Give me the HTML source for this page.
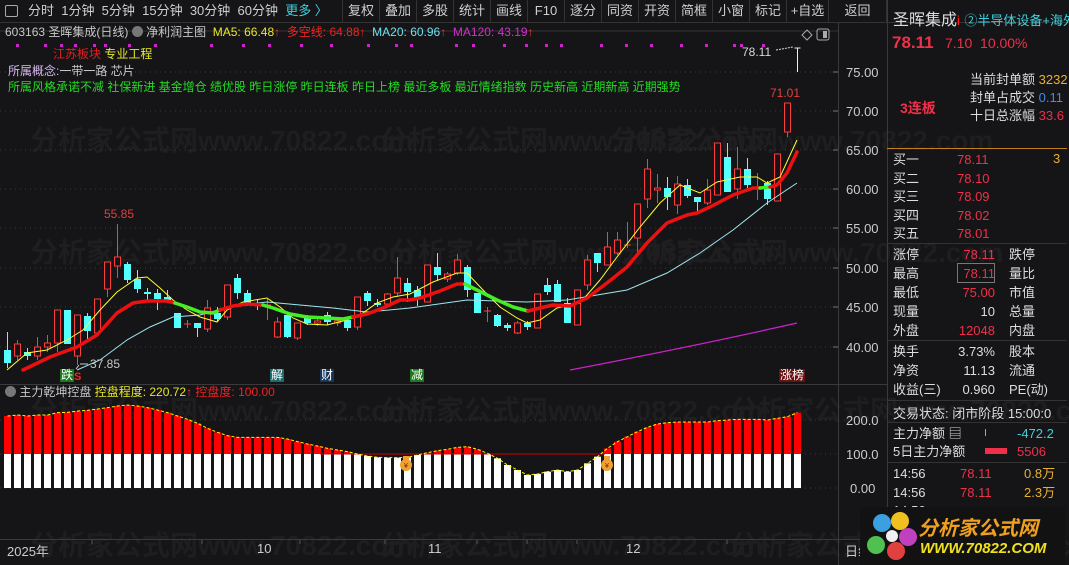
<!DOCTYPE html>
<html><head><meta charset="utf-8">
<style>
*{margin:0;padding:0;box-sizing:border-box}
body{width:1069px;height:565px;background:#151416;overflow:hidden;position:relative;font-family:"Liberation Sans","Noto Sans CJK SC",sans-serif;color:#c8c8c8}
.a{position:absolute;white-space:nowrap}
.tb{position:absolute;top:0;height:22px;font-size:13px;line-height:22px;color:#cfcfcf;text-align:center;border-right:1px solid #333}
.rp{font-size:13px}
</style></head><body>
<svg id="s" width="1069" height="565" style="position:absolute;left:0;top:0" xmlns="http://www.w3.org/2000/svg"></svg>

<div class="a" style="left:0;top:0;width:1069px;height:23px;border-bottom:1px solid #333"></div>
<div class="a" style="left:5px;top:5px;width:13px;height:12px;border:1px solid #aaa;border-radius:2px"></div>
<div class="a" style="left:28px;top:0;font-size:13px;line-height:22px;color:#cfcfcf;word-spacing:0">分时&nbsp;&nbsp;1分钟&nbsp;&nbsp;5分钟&nbsp;&nbsp;15分钟&nbsp;&nbsp;30分钟&nbsp;&nbsp;60分钟&nbsp;&nbsp;<span style="color:#3fd0e0">更多 〉</span></div>
<div class="tb" style="left:342px;width:1px;border-right:1px solid #333"></div>
<div class="tb" style="left:343px;width:37px">复权</div>
<div class="tb" style="left:380px;width:37px">叠加</div>
<div class="tb" style="left:417px;width:37px">多股</div>
<div class="tb" style="left:454px;width:37px">统计</div>
<div class="tb" style="left:491px;width:37px">画线</div>
<div class="tb" style="left:528px;width:37px">F10</div>
<div class="tb" style="left:565px;width:37px">逐分</div>
<div class="tb" style="left:602px;width:37px">同资</div>
<div class="tb" style="left:639px;width:37px">开资</div>
<div class="tb" style="left:676px;width:37px">简框</div>
<div class="tb" style="left:713px;width:37px">小窗</div>
<div class="tb" style="left:750px;width:37px">标记</div>
<div class="tb" style="left:787px;width:42px">+自选</div>
<div class="tb" style="left:829px;width:58px">返回</div>

<div class="a" style="left:5px;top:24px;font-size:12px;line-height:16px"><span style="color:#c8c8c8">603163 圣晖集成(日线)</span> <span style="display:inline-block;width:11px;height:11px;border-radius:50%;background:#777;vertical-align:-1px"></span> <span style="color:#c8c8c8">净利润主图</span>&nbsp; <span style="color:#e8e82a">MA5: 66.48</span><span style="color:#f33">↑</span>&nbsp; <span style="color:#e22">多空线: 64.88↑</span>&nbsp; <span style="color:#6ee0f0">MA20: 60.96</span><span style="color:#f33">↑</span>&nbsp; <span style="color:#d030d0">MA120: 43.19</span><span style="color:#f33">↑</span></div>
<div class="a" style="left:53px;top:46px;font-size:12px;line-height:16px"><span style="color:#e02020">江苏板块</span> <span style="color:#e8e82a">专业工程</span></div>
<div class="a" style="left:8px;top:63px;font-size:12px;line-height:16px"><span style="color:#d8b8f0">所属概念:</span><span style="color:#c8c8c8">一带一路 芯片</span></div>
<div class="a" style="left:8px;top:79px;font-size:12px;line-height:16px;color:#22dd22">所属风格承诺不减 社保新进 基金增仓 绩优股 昨日涨停 昨日连板 昨日上榜 最近多板 最近情绪指数 历史新高 近期新高 近期强势</div>

<div class="a" style="left:104px;top:207px;font-size:12px;color:#e04040">55.85</div>
<div class="a" style="left:90px;top:357px;font-size:12px;color:#c8c8c8">37.85</div>
<div class="a" style="left:770px;top:86px;font-size:12px;color:#e04040">71.01</div>
<div class="a" style="left:742px;top:45px;font-size:12px;color:#d8d8d8">78.11</div>
<div class="a" style="left:60px;top:369px;font-size:12px;line-height:13px;background:#1a7a1a;color:#fff;padding:0 1px">跌</div>
<div class="a" style="left:74px;top:371px;font-size:11px;color:#f22;font-weight:bold">S</div>
<div class="a" style="left:270px;top:369px;font-size:12px;line-height:13px;background:#1a6a6a;color:#fff;padding:0 1px">解</div>
<div class="a" style="left:320px;top:369px;font-size:12px;line-height:13px;background:#14345a;color:#fff;padding:0 1px">财</div>
<div class="a" style="left:410px;top:369px;font-size:12px;line-height:13px;background:#1a7a1a;color:#fff;padding:0 1px">减</div>
<div class="a" style="left:779px;top:369px;font-size:12px;line-height:13px;background:#6a1010;color:#fff;padding:0 1px">涨榜</div>

<div class="a" style="left:846px;top:65px;font-size:13px;color:#ccc">75.00</div>
<div class="a" style="left:846px;top:104px;font-size:13px;color:#ccc">70.00</div>
<div class="a" style="left:846px;top:143px;font-size:13px;color:#ccc">65.00</div>
<div class="a" style="left:846px;top:182px;font-size:13px;color:#ccc">60.00</div>
<div class="a" style="left:846px;top:221px;font-size:13px;color:#ccc">55.00</div>
<div class="a" style="left:846px;top:261px;font-size:13px;color:#ccc">50.00</div>
<div class="a" style="left:846px;top:300px;font-size:13px;color:#ccc">45.00</div>
<div class="a" style="left:846px;top:340px;font-size:13px;color:#ccc">40.00</div>
<div class="a" style="left:846px;top:413px;font-size:13px;color:#ccc">200.0</div>
<div class="a" style="left:846px;top:447px;font-size:13px;color:#ccc">100.0</div>
<div class="a" style="left:850px;top:481px;font-size:13px;color:#ccc">0.00</div>

<div class="a" style="left:5px;top:384px;font-size:12px;line-height:16px"><span style="display:inline-block;width:11px;height:11px;border-radius:50%;background:#777;vertical-align:-1px"></span> <span style="color:#c8c8c8">主力乾坤控盘</span> <span style="color:#e8e82a">控盘程度: 220.72</span><span style="color:#f33">↑</span> <span style="color:#e22">控盘度: 100.00</span></div>

<div class="a" style="left:7px;top:541px;font-size:13px;color:#ccc">2025年</div>
<div class="a" style="left:257px;top:541px;font-size:13px;color:#ccc">10</div>
<div class="a" style="left:428px;top:541px;font-size:13px;color:#ccc">11</div>
<div class="a" style="left:626px;top:541px;font-size:13px;color:#ccc">12</div>
<div class="a" style="left:845px;top:541px;font-size:13px;color:#ccc">日线</div>

<div class="a" style="left:893px;top:6px;font-size:16px;color:#ddd">圣晖集成<span style="color:#f22;font-size:13px">i</span> <span style="color:#3fd0e0;font-size:13px">②半导体设备+海外</span></div>
<div class="a" style="left:892px;top:33px;font-size:17px;color:#f0304a;font-weight:bold">78.11</div>
<div class="a" style="left:945px;top:35px;font-size:14px;color:#f0304a">7.10&nbsp;&nbsp;10.00%</div>
<div class="a" style="left:900px;top:98px;font-size:14px;color:#f0304a;font-weight:bold">3连板</div>
<div class="a rp" style="left:970px;top:69px;color:#ddd">当前封单额 <span style="color:#e8b030">3232</span></div>
<div class="a rp" style="left:970px;top:87px;color:#ddd">封单占成交 <span style="color:#3a90f0">0.11</span></div>
<div class="a rp" style="left:970px;top:105px;color:#ddd">十日总涨幅 <span style="color:#f0304a">33.6</span></div>
<div class="a" style="left:887px;top:148px;width:180px;height:1px;background:#c08020"></div>
<div class="a rp" style="left:893px;top:151px;line-height:18.5px;color:#ddd">买一<br>买二<br>买三<br>买四<br>买五</div>
<div class="a rp" style="left:957px;top:151px;line-height:18.5px;color:#f0304a">78.11<br>78.10<br>78.09<br>78.02<br>78.01</div>
<div class="a rp" style="left:1053px;top:151px;color:#e8b030">3</div>
<div class="a" style="left:887px;top:243px;width:180px;height:1px;background:#333"></div>
<div class="a rp" style="left:893px;top:245px;line-height:19px;color:#ddd">涨停<br>最高<br>最低<br>现量<br>外盘</div>
<div class="a rp" style="left:957px;top:245px;line-height:19px;color:#f0304a;text-align:right;width:38px">78.11<br>78.11<br>75.00<br><span style="color:#ddd">10</span><br>12048</div>
<div class="a" style="left:957px;top:263px;width:38px;height:20px;border:1px solid #777"></div>
<div class="a rp" style="left:1009px;top:245px;line-height:19px;color:#ddd">跌停<br>量比<br>市值<br>总量<br>内盘</div>
<div class="a" style="left:887px;top:340px;width:180px;height:1px;background:#333"></div>
<div class="a rp" style="left:893px;top:342px;line-height:19px;color:#ddd">换手<br>净资<br>收益(三)</div>
<div class="a rp" style="left:955px;top:342px;line-height:19px;color:#ddd;text-align:right;width:40px">3.73%<br>11.13<br>0.960</div>
<div class="a rp" style="left:1009px;top:342px;line-height:19px;color:#ddd">股本<br>流通<br>PE(动)</div>
<div class="a" style="left:887px;top:400px;width:180px;height:1px;background:#333"></div>
<div class="a rp" style="left:893px;top:403px;color:#ddd">交易状态: 闭市阶段 15:00:0</div>
<div class="a" style="left:887px;top:422px;width:180px;height:1px;background:#333"></div>
<div class="a rp" style="left:893px;top:425px;line-height:18px;color:#ddd">主力净额 ▤<br>5日主力净额</div>
<div class="a" style="left:985px;top:429px;width:1px;height:7px;background:#3fd0e0"></div>
<div class="a" style="left:985px;top:448px;width:22px;height:6px;background:#f0304a"></div>
<div class="a rp" style="left:1017px;top:425px;line-height:18px;color:#3fd0e0">-472.2<br><span style="color:#f0304a">5506</span></div>
<div class="a" style="left:887px;top:462px;width:180px;height:1px;background:#333"></div>
<div class="a rp" style="left:893px;top:465px;line-height:18.5px;color:#ddd">14:56<br>14:56<br>14:56</div>
<div class="a rp" style="left:960px;top:465px;line-height:18.5px;color:#f0304a">78.11<br>78.11</div>
<div class="a rp" style="left:1024px;top:465px;line-height:18.5px;color:#e8b030">0.8万<br>2.3万</div>

<div class="a" style="left:860px;top:507px;width:205px;height:58px;background:#121212"></div>
<svg class="a" style="left:862px;top:505px" width="60" height="60">
<circle cx="20" cy="18" r="9" fill="#3aa0e0"/><circle cx="38" cy="16" r="9" fill="#f0c020"/><circle cx="46" cy="32" r="9" fill="#c040c0"/><circle cx="34" cy="46" r="9" fill="#e04040"/><circle cx="14" cy="40" r="9" fill="#50c050"/><circle cx="30" cy="31" r="6" fill="#f0f0f0"/></svg>
<div class="a" style="left:918px;top:512px;font-size:20px;font-weight:bold;font-style:italic;color:#f0a020">分析家公式网</div>
<div class="a" style="left:920px;top:540px;font-size:15px;font-weight:bold;font-style:italic;color:#f0e020">WWW.70822.COM</div>

<script>
const S=document.getElementById('s');let h='';
const wm=[[0,150],[350,150],[0,262],[360,262],[590,262],[0,420],[350,420],[700,420],[0,555],[350,555],[700,555],[580,150]];
wm.forEach(w=>{h+=`<text x="${w[0]+30}" y="${w[1]}" font-size="28" fill="#1e1d20" font-family="Liberation Sans,Noto Sans CJK SC,sans-serif" font-weight="bold">分析家公式网www.70822.com</text>`});
h+=`<line x1="0" y1="31" x2="838" y2="31" stroke="#333"/>`;
h+=`<line x1="838.5" y1="23" x2="838.5" y2="565" stroke="#3a3a3a"/>`;
h+=`<line x1="887.5" y1="0" x2="887.5" y2="565" stroke="#3a3a3a"/>`;
h+=`<line x1="0" y1="384.5" x2="887" y2="384.5" stroke="#3a3a3a"/>`;
h+=`<line x1="0" y1="539.5" x2="887" y2="539.5" stroke="#3a3a3a"/>`;
[72,111,150,189,228,268,307,347].forEach(y=>{h+=`<line x1="0" y1="${y}" x2="838" y2="${y}" stroke="#3a3a3a" stroke-dasharray="1,4"/><line x1="833" y1="${y}" x2="838" y2="${y}" stroke="#777"/>`});
[420,454,488].forEach(y=>{h+=`<line x1="0" y1="${y}" x2="838" y2="${y}" stroke="#3a3a3a" stroke-dasharray="1,4"/>`});
[92,202,300,385,477,527,577,727].forEach(x=>{h+=`<line x1="${x}" y1="540" x2="${x}" y2="544" stroke="#555"/>`});
[16,44,60,74,93,104,128,154,210,242,268,300,330,367,395,410,455,472,503,525,545,560,600,625,650,680,705,733,740,762].forEach(x=>{h+=`<rect x="${x}" y="44" width="3" height="3" fill="#d020d0"/>`});
const z=[138,135,138,135,135,128,127,123,121,117,113,108,105,108,113,120,128,138,148,160,175,187,197,202,202,202,202,202,207,215,222,228,235,240,245,252,258,262,263,263,262,255,248,242,238,
232,230,238,250,265,285,300,315,312,305,300,305,300,280,260,235,215,200,185,172,162,158,156,156,156,156,152,150,148,148,148,150,145,140,128];
let yl=[];
z.forEach((v,i)=>{const x=4+i*10,top=370+v/3;yl.push([x+3.5,top]);
 if(top<454){h+=`<rect x="${x}" y="${top}" width="7" height="${454-top}" fill="#f00"/><rect x="${x}" y="454" width="7" height="34" fill="#fff"/>`}
 else{h+=`<rect x="${x}" y="${top}" width="7" height="${488-top}" fill="#fff"/>`}});
h+=`<line x1="320" y1="454" x2="605" y2="454" stroke="#c00" stroke-width="1"/>`;
h+=`<polyline points="${yl.map(p=>p.join(',')).join(' ')}" fill="none" stroke="#ff0" stroke-width="1" stroke-dasharray="3,2"/>`;
[406,607].forEach(x=>{h+=`<circle cx="${x}" cy="465" r="6" fill="#f0a030"/><rect x="${x-3}" y="456" width="6" height="4" fill="#f0a030"/><text x="${x-2}" y="468" font-size="7" fill="#603010">¥</text>`});
const C=[['c',350,363,332,368],['r',344,356,340,360],['c',352,356,348,360],['r',347,356,337,360],['r',343,347,335,352],['r',310,343,310,352],['c',310,344,310,344],['r',315,356,315,365],['c',316,331,313,340],['r',299,333,299,333],
['r',262,289,262,297],['r',257,266,224,278],['c',264,280,262,283],['c',279,289,270,293],['c',292,294,288,300],['c',293,299,289,310],['c',297,300,290,303],['c',313,328,313,328],['x',324,325,320,328],['c',323,328,323,337],
['r',308,329,300,332],['c',313,319,307,322],['r',285,317,285,320],['c',278,293,274,299],['c',293,303,290,306],['c',303,306,299,310],['r',305,307,299,320],['r',322,337,317,338],['c',315,337,315,338],['r',323,338,323,340],
['c',317,323,315,325],['r',321,323,317,326],['c',315,322,312,325],['r',321,323,317,326],['c',320,328,318,331],['r',297,327,297,330],['c',293,301,291,306],['c',303,305,299,307],['r',294,304,293,308],['r',278,293,257,297],
['c',283,292,278,302],['c',290,298,286,306],['r',265,302,265,302],['c',267,275,253,280],['r',274,279,272,282],['r',260,273,254,275],['c',267,290,265,297],['c',293,313,293,313],['x',311,312,307,322],['c',315,326,314,327],
['c',325,328,323,331],['r',323,333,321,334],['c',323,327,321,330],['r',294,328,294,328],['c',285,292,278,295],['c',284,302,280,302],['c',303,323,298,323],['r',290,325,290,325],['r',260,285,255,290],['c',253,263,253,272],
['r',247,265,232,265],['r',240,253,232,255],['x',245,246,222,248],['r',204,238,204,253],['r',169,199,159,208],['r',188,190,174,203],['c',188,197,177,210],['r',184,205,176,214],['c',185,196,179,198],['c',197,202,197,212],
['r',190,203,179,205],['r',143,195,143,195],['c',157,192,143,192],['r',169,189,147,199],['c',169,185,158,188],['r',187,189,173,200],['c',183,199,181,205],['r',154,201,154,201],['r',103,132,103,137],['w',48,49,48,72]];
C.forEach((c,i)=>{const x=7.5+i*10;let col=c[0]=='c'?'#54ffff':c[0]=='w'?'#eee':'#ff3c3c';
 h+=`<line x1="${x}" y1="${c[3]}" x2="${x}" y2="${c[4]}" stroke="${col}"/>`;
 if(c[0]=='c')h+=`<rect x="${x-3.5}" y="${c[1]}" width="7" height="${Math.max(1,c[2]-c[1])}" fill="${col}"/>`;
 else if(c[0]=='r')h+=`<rect x="${x-3}" y="${c[1]}" width="6" height="${Math.max(1,c[2]-c[1])}" fill="#151416" stroke="${col}"/>`;
 else if(c[0]=='x')h+=`<line x1="${x-3.5}" y1="${c[1]}" x2="${x+3.5}" y2="${c[1]}" stroke="${col}"/>`;
 else h+=`<line x1="${x-3}" y1="48" x2="${x+3}" y2="48" stroke="${col}"/>`;});
h+=`<line x1="776" y1="50" x2="793" y2="47" stroke="#ddd" stroke-dasharray="2,1"/>`;
h+=`<line x1="80" y1="364" x2="88" y2="364" stroke="#ccc"/><line x1="79" y1="365" x2="76" y2="369" stroke="#ccc"/>`;
const P=a=>a.map(p=>p.join(',')).join(' ');
const cy=[[77,370],[100,360],[127,340],[150,327],[173,317],[200,315],[233,306],[267,302],[300,305],[333,308],[367,312],[410,308],[467,300],[527,302],[567,300],[627,290],[667,273],[700,253],[733,230],[767,203],[797,183]];
h+=`<polyline points="${P(cy)}" fill="none" stroke="#9ee8ee" stroke-width="1"/>`;
h+=`<path d="M570,370 Q700,345 797,323" fill="none" stroke="#d020d0" stroke-width="1.2"/>`;
const ye=[[7,370],[27,353],[47,350],[67,340],[83,330],[100,310],[117,292],[137,278],[147,277],[160,288],[173,300],[187,310],[200,317],[217,322],[227,310],[243,302],[267,298],[280,307],[293,318],[307,324],[327,325],[347,320],[360,315],[377,303],[393,297],[410,294],[433,282],[457,273],[467,273],[483,290],[500,307],[517,318],[527,323],[540,320],[557,308],[580,303],[600,280],[617,257],[640,227],[660,203],[680,185],[700,193],[717,182],[740,177],[757,177],[767,183],[780,177],[797,140]];
h+=`<polyline points="${P(ye)}" fill="none" stroke="#ffff30" stroke-width="1"/>`;
const segs=[['r',[[23,370],[50,357],[77,347],[97,335],[117,313],[133,303],[147,301],[167,301],[175,303]]],
['g',[[175,303],[187,307],[200,312],[213,313],[220,310]]],
['r',[[220,310],[233,306],[247,304],[263,305]]],
['g',[[263,305],[273,308],[290,314],[307,317],[327,318],[343,319],[353,317]]],
['r',[[353,317],[367,314],[383,308],[400,300],[410,300],[420,298],[440,291],[457,284],[465,284]]],
['g',[[465,284],[477,290],[497,300],[513,307],[528,311]]],
['r',[[528,311],[540,308],[553,305],[570,306],[587,298],[607,283],[627,267],[647,243],[667,223],[687,215],[697,213],[710,207],[733,195],[753,188],[760,188]]],
['g',[[760,188],[770,187]]],
['r',[[770,187],[777,185],[787,173],[797,152]]]];
segs.forEach(s=>{h+=`<polyline points="${P(s[1])}" fill="none" stroke="${s[0]=='r'?'#ee1010':'#44ee22'}" stroke-width="3.5" stroke-linecap="round" stroke-linejoin="round"/>`});
h+=`<path d="M807,30 L812,35 L807,40 L802,35 Z" fill="none" stroke="#aaa"/><rect x="817" y="29" width="12" height="11" rx="2" fill="none" stroke="#aaa"/><rect x="823" y="31" width="4" height="7" fill="#aaa"/>`;
S.innerHTML=h;
</script>
</body></html>
